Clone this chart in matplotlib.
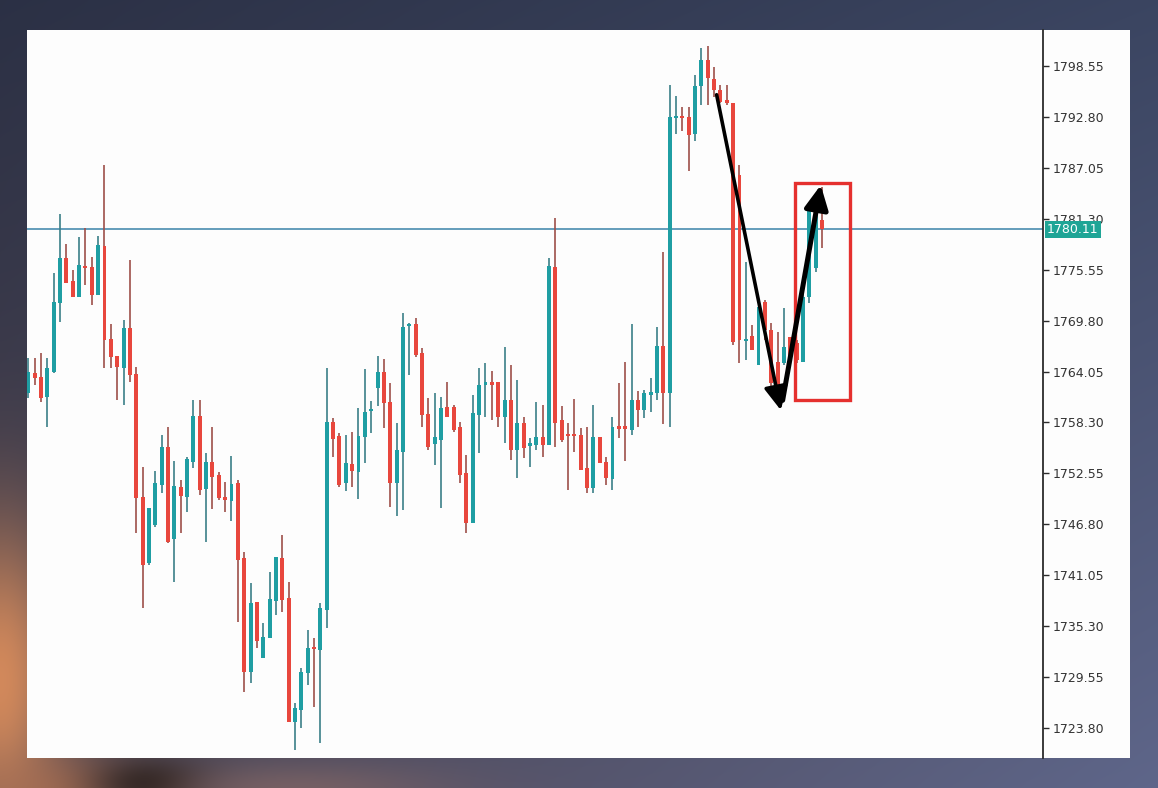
import numpy as np
import matplotlib
matplotlib.use("Agg")
import matplotlib.pyplot as plt
from matplotlib.patches import Rectangle
from matplotlib.transforms import blended_transform_factory

# ---------------- data (price values) ----------------
opens = [1761.6,1763.9,1763.4,1761.2,1764.0,1771.8,1776.9,1774.3,1772.5,1776.0,
         1775.9,1772.7,1778.2,1767.7,1765.8,1764.5,1769.0,1763.8,1749.9,1742.4,
         1746.7,1751.2,1755.5,1745.1,1751.0,1749.9,1753.8,1759.0,1750.8,1753.8,
         1752.4,1749.9,1749.4,1751.5,1743.0,1730.1,1738.0,1731.7,1734.0,1738.2,
         1743.0,1738.5,1724.5,1725.8,1730.0,1733.0,1732.6,1737.1,1758.4,1756.8,
         1751.5,1753.6,1752.7,1756.7,1759.6,1762.2,1764.0,1760.6,1751.5,1755.0,
         1769.2,1769.4,1766.1,1759.3,1755.9,1756.3,1760.0,1760.0,1757.8,1752.6,
         1747.0,1759.2,1762.6,1762.8,1762.9,1758.9,1760.8,1755.2,1758.2,1755.7,
         1755.8,1756.7,1755.8,1775.9,1758.6,1757.0,1757.0,1756.9,1753.2,1750.9,
         1756.7,1753.8,1751.9,1757.8,1757.8,1757.5,1760.8,1759.7,1761.5,1761.6,
         1766.9,1761.6,1792.7,1792.9,1792.8,1790.9,1796.3,1799.2,1797.1,1795.8,
         1794.7,1794.4,1786.2,1767.5,1768.1,1764.8,1771.9,1768.7,1765.1,1765.0,
         1768.0,1767.3,1765.1,1772.5,1775.7,1781.2]
closes = [1764.0,1763.3,1761.1,1764.5,1771.9,1776.9,1774.1,1772.5,1776.1,1775.7,
          1772.7,1778.3,1767.6,1765.7,1764.6,1769.0,1763.7,1749.8,1742.2,1748.6,
          1751.5,1755.5,1744.8,1751.1,1750.0,1754.2,1759.0,1750.7,1753.8,1752.2,
          1749.8,1749.6,1751.4,1742.8,1730.1,1737.9,1733.6,1734.1,1738.4,1743.1,
          1738.3,1724.5,1726.1,1730.1,1732.8,1732.7,1737.4,1758.4,1756.4,1751.2,
          1753.7,1752.8,1756.8,1759.5,1759.8,1764.0,1760.5,1751.5,1755.2,1769.1,
          1769.4,1765.9,1759.1,1755.5,1756.7,1759.9,1758.9,1757.5,1752.4,1747.0,
          1759.4,1762.5,1762.8,1762.6,1758.9,1760.8,1755.2,1758.2,1755.4,1755.9,
          1756.7,1755.8,1776.0,1758.2,1756.3,1756.8,1756.8,1752.9,1750.9,1756.7,
          1753.7,1752.0,1757.8,1757.6,1757.6,1760.8,1759.7,1761.6,1761.7,1766.9,
          1761.6,1792.8,1792.9,1792.7,1790.8,1796.3,1799.2,1797.2,1795.8,1794.5,
          1794.4,1767.4,1767.6,1767.7,1766.5,1771.3,1768.7,1762.8,1761.6,1766.8,
          1765.6,1765.4,1772.5,1782.6,1781.7,1780.11]
highs = [1765.6,1765.6,1766.1,1765.6,1775.2,1781.8,1778.5,1775.5,1779.2,1780.3,
         1777.0,1779.4,1787.4,1769.4,1765.8,1769.9,1776.6,1764.6,1753.3,1748.6,
         1752.8,1756.9,1757.8,1754.0,1751.8,1754.4,1760.8,1760.8,1754.9,1757.8,
         1752.7,1751.6,1754.5,1751.8,1743.7,1740.2,1738.0,1735.7,1741.4,1743.1,
         1745.6,1740.3,1726.6,1730.6,1734.9,1734.0,1737.9,1764.5,1758.8,1757.1,
         1756.9,1757.2,1759.9,1764.3,1760.7,1765.8,1765.5,1762.8,1758.2,1770.7,
         1769.5,1770.1,1766.7,1761.1,1761.6,1761.2,1762.9,1760.3,1758.4,1754.6,
         1761.4,1764.5,1765.0,1764.1,1762.9,1766.8,1764.8,1763.1,1758.9,1756.6,
         1760.6,1760.3,1776.9,1781.4,1760.2,1758.2,1761.0,1757.7,1757.8,1760.3,
         1756.7,1754.4,1758.9,1762.8,1765.1,1769.4,1761.9,1762.0,1763.3,1769.1,
         1777.5,1796.4,1795.2,1793.9,1793.9,1797.5,1800.6,1800.8,1798.4,1796.4,
         1796.4,1794.4,1787.4,1776.4,1769.3,1771.3,1772.1,1769.5,1768.5,1771.2,
         1768.0,1767.6,1772.9,1782.6,1782.6,1784.9]
lows = [1761.1,1762.5,1760.6,1757.8,1763.9,1769.6,1774.1,1772.5,1772.5,1773.8,
        1771.6,1772.7,1764.5,1764.5,1760.8,1760.3,1762.9,1745.8,1737.4,1742.2,
        1746.5,1750.3,1744.7,1740.3,1745.8,1748.2,1753.2,1750.1,1744.8,1748.5,
        1749.6,1748.2,1747.2,1735.8,1727.9,1728.9,1732.8,1731.7,1734.0,1736.6,
        1736.9,1724.5,1721.3,1723.8,1728.7,1726.2,1722.1,1735.1,1754.4,1751.0,
        1750.6,1751.0,1749.7,1753.7,1757.1,1760.2,1757.7,1748.8,1747.7,1748.4,
        1763.7,1765.7,1757.8,1755.2,1753.5,1748.6,1758.9,1757.2,1751.5,1745.8,
        1747.0,1754.9,1758.9,1758.6,1757.8,1756.0,1754.1,1752.0,1754.3,1753.3,
        1755.2,1754.4,1755.8,1755.5,1756.1,1750.7,1755.0,1752.9,1750.3,1750.3,
        1753.7,1751.2,1750.7,1756.6,1754.0,1756.9,1757.8,1758.8,1759.5,1760.8,
        1758.1,1757.8,1790.9,1791.2,1786.7,1790.1,1794.1,1794.1,1795.0,1794.4,
        1794.1,1767.1,1765.0,1765.4,1766.5,1764.8,1767.6,1761.6,1761.6,1764.8,
        1765.6,1765.0,1765.1,1771.8,1775.3,1778.0]

price_ticks = [1723.80, 1729.55, 1735.30, 1741.05, 1746.80, 1752.55, 1758.30,
               1764.05, 1769.80, 1775.55, 1781.30, 1787.05, 1792.80, 1798.55]
current_label = "1780.11"

# annotation geometry (bar index, price)
arrow_down = [(108.4, 1795.3), (118.5, 1759.7)]
arrow_up = [(118.8, 1760.8), (124.8, 1785.1)]
box_x = (120.7, 129.4)
box_y = (1760.8, 1785.3)

# ---------------- figure & background ----------------
W, H = 1158, 788
fig = plt.figure(figsize=(W / 100, H / 100), dpi=100)

yy, xx = np.mgrid[0:H, 0:W].astype(float)
u = xx / W
v = yy / H
c_tl = np.array([0.17, 0.19, 0.27])
c_tr = np.array([0.23, 0.27, 0.38])
c_bl = np.array([0.30, 0.27, 0.32])
c_br = np.array([0.37, 0.40, 0.54])
img = ((1 - u)[..., None] * (1 - v)[..., None] * c_tl + u[..., None] * (1 - v)[..., None] * c_tr
       + (1 - u)[..., None] * v[..., None] * c_bl + u[..., None] * v[..., None] * c_br)

def blob(cx, cy, sx, sy, col, w):
    g = np.exp(-(((xx - cx) / sx) ** 2 + ((yy - cy) / sy) ** 2) / 2)[..., None] * w
    return g, np.array(col)

for (cx, cy, sx, sy, col, w) in [(0, 680, 45, 110, (0.85, 0.55, 0.36), 0.95),
                                 (60, 790, 60, 25, (0.70, 0.45, 0.32), 0.7),
                                 (150, 785, 40, 18, (0.08, 0.06, 0.05), 0.9),
                                 (290, 790, 110, 20, (0.55, 0.42, 0.40), 0.6)]:
    g, c = blob(cx, cy, sx, sy, col, w)
    img = img * (1 - g) + c * g
img = np.clip(img, 0, 1)

bg = fig.add_axes([0, 0, 1, 1])
bg.imshow(img, aspect="auto", extent=(0, W, H, 0))
bg.set_xlim(0, W)
bg.set_ylim(H, 0)
bg.axis("off")

# white chart panel
bg.add_patch(Rectangle((27, 30), 1130 - 27, 758 - 30, facecolor="#fdfdfd", edgecolor="none", zorder=2))

# ---------------- main price axes ----------------
ax = fig.add_axes([27 / W, 1 - 758 / H, (1043 - 27) / W, (758 - 30) / H])
ax.set_facecolor("none")

n = len(opens)
x = np.arange(n)
o = np.array(opens); c = np.array(closes); h = np.array(highs); l = np.array(lows)
up = c >= o
body_col = np.where(up, "#1f9ea3", "#e8473d")
wick_col = np.where(up, "#3b7f88", "#9e4f4a")

ax.vlines(x, l, h, colors=wick_col, lw=1.2, zorder=2)
bottom = np.minimum(o, c)
height = np.abs(c - o)
min_h = 0.3
small = height < min_h
bottom = np.where(small, (o + c) / 2 - min_h / 2, bottom)
height = np.where(small, min_h, height)
ax.bar(x, height, bottom=bottom, width=0.62, color=body_col, linewidth=0, zorder=3)

ax.set_xlim(-0.205, 159.8)
ax.set_ylim(1720.42, 1802.61)

# current price line + label
last = closes[-1]
ax.axhline(last, color="#4a8db0", lw=1.2, zorder=1)
tr = blended_transform_factory(ax.transAxes, ax.transData)
ax.text(1.004, last, current_label, transform=tr, ha="left", va="center",
        fontsize=9, color="white", clip_on=False, zorder=6,
        bbox=dict(boxstyle="square,pad=0.18", fc="#1fa596", ec="none"))

# annotations: red box + arrows
ax.add_patch(Rectangle((box_x[0], box_y[0]), box_x[1] - box_x[0], box_y[1] - box_y[0],
                       fill=False, edgecolor="#e5302e", lw=2.4, zorder=4))
ax.annotate("", xy=arrow_down[1], xytext=arrow_down[0],
            arrowprops=dict(arrowstyle="-|>,head_length=0.9,head_width=0.45",
                            lw=2.6, color="black", shrinkA=0, shrinkB=0,
                            mutation_scale=16), zorder=5)
ax.annotate("", xy=arrow_up[1], xytext=arrow_up[0],
            arrowprops=dict(arrowstyle="-|>,head_length=0.9,head_width=0.45",
                            lw=3.6, color="black", shrinkA=0, shrinkB=0,
                            mutation_scale=16), zorder=5)

# axis styling
for s in ["top", "left", "bottom"]:
    ax.spines[s].set_visible(False)
ax.spines["right"].set_color("#2b2b2b")
ax.spines["right"].set_linewidth(1.3)
ax.set_xticks([])
ax.yaxis.tick_right()
ax.set_yticks(price_ticks)
ax.set_yticklabels([f"{t:.2f}" for t in price_ticks])
ax.tick_params(axis="y", length=4, width=1, color="#2b2b2b", labelsize=9,
               labelcolor="#333333", pad=3)

fig.savefig("out.png", dpi=100)
